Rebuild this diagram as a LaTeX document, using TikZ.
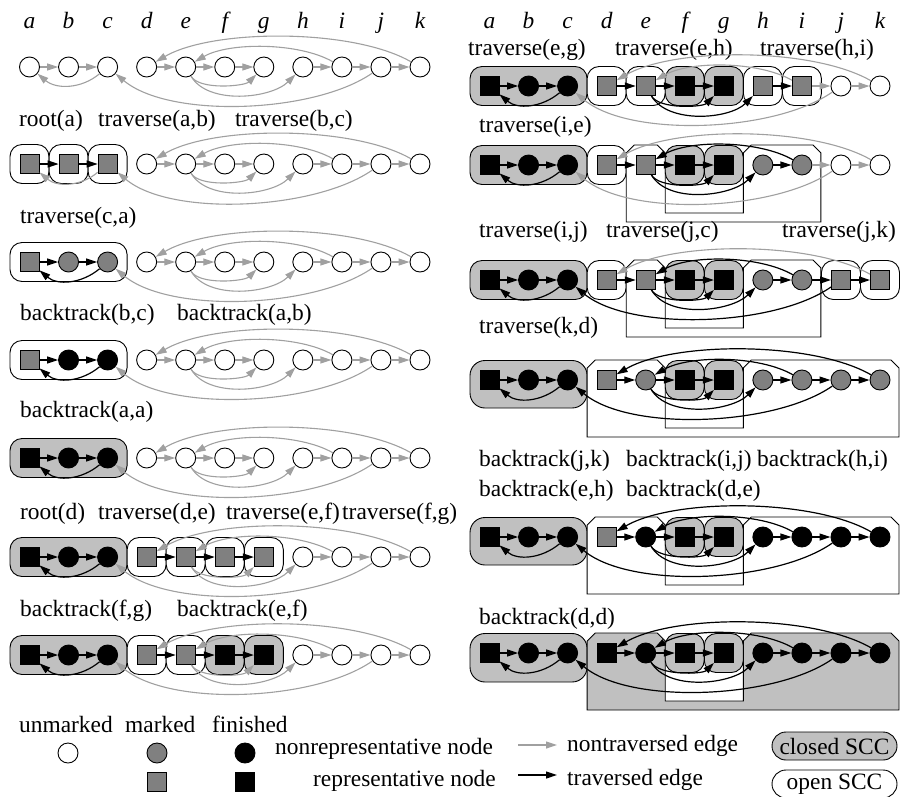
\documentclass[tikz,border=0pt]{standalone}
\usepackage{fontspec}
\setmainfont{Liberation Serif}
\usetikzlibrary{arrows.meta}
\definecolor{egray}{RGB}{160,160,160}
\definecolor{mgray}{RGB}{128,128,128}
\definecolor{cgray}{RGB}{192,192,192}
\newcommand\colltr[1]{\ifcase#1 a\or b\or c\or d\or e\or f\or g\or h\or i\or j\or k\fi}
\tikzset{
 x=1pt, y=1pt,
 nU/.style={circle, draw, line width=0.9pt, fill=white, minimum size=20pt, inner sep=0pt},
 nM/.style={nU, fill=mgray},
 nF/.style={nU, fill=black},
 nMR/.style={rectangle, draw, line width=0.9pt, fill=mgray, minimum size=19pt, inner sep=0pt},
 nFR/.style={nMR, fill=black},
 tipA/.style={-{Triangle[length=11pt,width=7pt]}},
 gr/.style={draw=egray, line width=1.1pt, tipA},
 bk/.style={draw=black, line width=1.2pt, tipA},
 obox/.style={draw, line width=0.9pt, fill=white, rounded corners=12pt},
 cbox/.style={obox, fill=cgray},
 tbox/.style={draw, line width=0.9pt, fill=cgray, rounded corners=15pt},
 oshape/.style={draw, line width=0.9pt, fill=white},
 cshape/.style={oshape, fill=cgray},
 lbl/.style={anchor=base west, inner sep=0pt, font=\fontsize{23.4}{28}\selectfont},
 hdr/.style={anchor=base, inner sep=0pt, font=\fontsize{23.4}{28}\selectfont\itshape},
 pill/.style={draw, line width=0.9pt, rounded corners=14pt, minimum width=125pt, minimum height=28pt, inner sep=0pt, font=\fontsize{23.4}{28}\selectfont},
 Eab/.style={}, Ebc/.style={}, Ede/.style={}, Eef/.style={}, Efg/.style={},
 Ehi/.style={}, Eij/.style={}, Ejk/.style={},
 Eca/.style={out=-140,in=-40,looseness=1},
 Eeg/.style={out=-60,in=-135,looseness=0.65},
 Eeh/.style={out=-60,in=-135,looseness=0.83},
 Ejc/.style={out=-145,in=-40,looseness=0.7},
 Ekd/.style={out=150,in=30,looseness=0.67},
 Eie/.style={out=150,in=30,looseness=0.73},
}
% nodes of one row
\newcommand\Row[4]{%
 \foreach \s [count=\i from 0] in {#4} {%
  \pgfmathsetmacro\xx{#2+39.05*\i}%
  \edef\tmp{\noexpand\node[\s] (#1\colltr{\i}) at (\xx,-#3) {};}\tmp
 }}
\newcommand\Bk[2]{\foreach \u/\v in {#2} {\edef\tmp{\noexpand\draw[bk,E\u\v] (#1\u) to (#1\v);}\tmp}}
\newcommand\Gr[2]{\foreach \u/\v in {#2} {\edef\tmp{\noexpand\draw[gr,E\u\v] (#1\u) to (#1\v);}\tmp}}
% rounded SCC box: style, x0, first col, last col, y, bottom offset
\newcommand\sccbox[6]{\draw[#1] ({#2+39.05*#3-19.5},{-(#5-19.5)}) rectangle ({#2+39.05*#4+19.5},{-(#5+#6)});}
% merged SCC with notch under f,g: style, x0, first col, last col, y
\newcommand\bigscc[5]{%
 \pgfmathsetmacro\sL{#2+39.05*#3-19.5}%
 \pgfmathsetmacro\sR{#2+39.05*#4+19}%
 \pgfmathsetmacro\sNL{#2+39.05*5-19.5}%
 \pgfmathsetmacro\sNR{#2+39.05*6+19.5}%
 \pgfmathsetmacro\sT{-(#5-20)}%
 \pgfmathsetmacro\sTc{-(#5-12)}%
 \pgfmathsetmacro\sNB{-(#5+48)}%
 \pgfmathsetmacro\sB{-(#5+57)}%
 \draw[#1] (\sL,\sTc) -- ({\sL+8},\sT) -- ({\sNL-8},\sT) -- (\sNL,\sTc) -- (\sNL,\sNB) -- (\sNR,\sNB) -- (\sNR,\sTc) -- ({\sNR+8},\sT) -- ({\sR-8},\sT) -- (\sR,\sTc) -- (\sR,\sB) -- (\sL,\sB) -- cycle;}
\begin{document}
\begin{tikzpicture}
\useasboundingbox (0,0) rectangle (900,-796);
% column headers
\foreach \lt [count=\i from 0] in {a,b,c,d,e,f,g,h,i,j,k} {
  \node[hdr] (hl\lt) at ({29.5+39.05*\i},-28) {\lt};
  \node[hdr] (hr\lt) at ({489.5+39.05*\i},-28) {\lt};
}
% ---------------- left panel ----------------
% row 1
\Row{L1}{29.5}{67}{nU,nU,nU,nU,nU,nU,nU,nU,nU,nU,nU}
\Gr{L1}{a/b,b/c,c/a,d/e,e/f,f/g,h/i,i/j,j/k,e/g,e/h,j/c,k/d,i/e}
\node[lbl] (t1) at (19,-126) {root(a)};
\node[lbl] (t2) at (98,-126) {traverse(a,b)};
\node[lbl] (t3) at (235,-126) {traverse(b,c)};
% row 2
\sccbox{obox}{29.5}{0}{0}{164}{19.5}
\sccbox{obox}{29.5}{1}{1}{164}{19.5}
\sccbox{obox}{29.5}{2}{2}{164}{19.5}
\Row{L2}{29.5}{164}{nMR,nMR,nMR,nU,nU,nU,nU,nU,nU,nU,nU}
\Bk{L2}{a/b,b/c}
\Gr{L2}{c/a,d/e,e/f,f/g,h/i,i/j,j/k,e/g,e/h,j/c,k/d,i/e}
\node[lbl] (t4) at (20,-223) {traverse(c,a)};
% row 3
\sccbox{obox}{29.5}{0}{2}{262}{19.5}
\Row{L3}{29.5}{262}{nMR,nM,nM,nU,nU,nU,nU,nU,nU,nU,nU}
\Bk{L3}{a/b,b/c,c/a}
\Gr{L3}{d/e,e/f,f/g,h/i,i/j,j/k,e/g,e/h,j/c,k/d,i/e}
\node[lbl] (t5) at (20,-320) {backtrack(b,c)};
\node[lbl] (t6) at (177,-320) {backtrack(a,b)};
% row 4
\sccbox{obox}{29.5}{0}{2}{360}{19.5}
\Row{L4}{29.5}{360}{nMR,nF,nF,nU,nU,nU,nU,nU,nU,nU,nU}
\Bk{L4}{a/b,b/c,c/a}
\Gr{L4}{d/e,e/f,f/g,h/i,i/j,j/k,e/g,e/h,j/c,k/d,i/e}
\node[lbl] (t7) at (20,-417) {backtrack(a,a)};
% row 5
\sccbox{cbox}{29.5}{0}{2}{458}{19.5}
\Row{L5}{29.5}{458}{nFR,nF,nF,nU,nU,nU,nU,nU,nU,nU,nU}
\Bk{L5}{a/b,b/c,c/a}
\Gr{L5}{d/e,e/f,f/g,h/i,i/j,j/k,e/g,e/h,j/c,k/d,i/e}
\node[lbl] (t8) at (20,-519) {root(d)};
\node[lbl] (t9) at (98,-519) {traverse(d,e)};
\node[lbl] (t10) at (226,-519) {traverse(e,f)};
\node[lbl] (t11) at (342,-519) {traverse(f,g)};
% row 6
\sccbox{cbox}{29.5}{0}{2}{557}{19.5}
\sccbox{obox}{29.5}{3}{3}{557}{19.5}
\sccbox{obox}{29.5}{4}{4}{557}{19.5}
\sccbox{obox}{29.5}{5}{5}{557}{19.5}
\sccbox{obox}{29.5}{6}{6}{557}{19.5}
\Row{L6}{29.5}{557}{nFR,nF,nF,nMR,nMR,nMR,nMR,nU,nU,nU,nU}
\Bk{L6}{a/b,b/c,c/a,d/e,e/f,f/g}
\Gr{L6}{h/i,i/j,j/k,e/g,e/h,j/c,k/d,i/e}
\node[lbl] (t12) at (20,-616) {backtrack(f,g)};
\node[lbl] (t13) at (177,-616) {backtrack(e,f)};
% row 7
\sccbox{cbox}{29.5}{0}{2}{655}{19.5}
\sccbox{obox}{29.5}{3}{3}{655}{19.5}
\sccbox{obox}{29.5}{4}{4}{655}{19.5}
\sccbox{cbox}{29.5}{5}{5}{655}{19.5}
\sccbox{cbox}{29.5}{6}{6}{655}{19.5}
\Row{L7}{29.5}{655}{nFR,nF,nF,nMR,nMR,nFR,nFR,nU,nU,nU,nU}
\Bk{L7}{a/b,b/c,c/a,d/e,e/f,f/g}
\Gr{L7}{h/i,i/j,j/k,e/g,e/h,j/c,k/d,i/e}
% ---------------- right panel ----------------
\node[lbl] (t14) at (468,-55) {traverse(e,g)};
\node[lbl] (t15) at (615,-55) {traverse(e,h)};
\node[lbl] (t16) at (760,-55) {traverse(h,i)};
% row R1
\sccbox{cbox}{489.5}{0}{2}{86}{19.5}
\sccbox{obox}{489.5}{3}{3}{86}{19.5}
\sccbox{obox}{489.5}{4}{4}{86}{19.5}
\sccbox{cbox}{489.5}{5}{5}{86}{19.5}
\sccbox{cbox}{489.5}{6}{6}{86}{19.5}
\sccbox{obox}{489.5}{7}{7}{86}{19.5}
\sccbox{obox}{489.5}{8}{8}{86}{19.5}
\Row{R1}{489.5}{86}{nFR,nF,nF,nMR,nMR,nFR,nFR,nMR,nMR,nU,nU}
\Gr{R1}{i/j,j/k,i/e,k/d,j/c}
\Bk{R1}{a/b,b/c,c/a,d/e,e/f,f/g,e/g,e/h,h/i}
\node[lbl] (t17) at (479,-132) {traverse(i,e)};
% row R2
\sccbox{cbox}{489.5}{0}{2}{165}{19.5}
\sccbox{obox}{489.5}{3}{3}{165}{19.5}
\bigscc{oshape}{489.5}{4}{8}{165}
\sccbox{cbox}{489.5}{5}{5}{165}{19.5}
\sccbox{cbox}{489.5}{6}{6}{165}{19.5}
\Row{R2}{489.5}{165}{nFR,nF,nF,nMR,nMR,nFR,nFR,nM,nM,nU,nU}
\Gr{R2}{i/j,j/k,k/d,j/c}
\Bk{R2}{a/b,b/c,c/a,d/e,e/f,f/g,e/g,e/h,h/i,i/e}
\node[lbl] (t18) at (479,-237) {traverse(i,j)};
\node[lbl] (t19) at (606,-237) {traverse(j,c)};
\node[lbl] (t20) at (782,-237) {traverse(j,k)};
% row R3
\sccbox{cbox}{489.5}{0}{2}{280}{19.5}
\sccbox{obox}{489.5}{3}{3}{280}{19.5}
\bigscc{oshape}{489.5}{4}{8}{280}
\sccbox{cbox}{489.5}{5}{5}{280}{19.5}
\sccbox{cbox}{489.5}{6}{6}{280}{19.5}
\sccbox{obox}{489.5}{9}{9}{280}{19.5}
\sccbox{obox}{489.5}{10}{10}{280}{19.5}
\Row{R3}{489.5}{280}{nFR,nF,nF,nMR,nMR,nFR,nFR,nM,nM,nMR,nMR}
\Gr{R3}{k/d}
\Bk{R3}{a/b,b/c,c/a,d/e,e/f,f/g,e/g,e/h,h/i,i/e,i/j,j/k,j/c}
\node[lbl] (t21) at (479,-333) {traverse(k,d)};
% row R4
\sccbox{tbox}{489.5}{0}{2}{380}{28}
\bigscc{oshape}{489.5}{3}{10}{380}
\sccbox{cbox}{489.5}{5}{5}{380}{19.5}
\sccbox{cbox}{489.5}{6}{6}{380}{19.5}
\Row{R4}{489.5}{380}{nFR,nF,nF,nMR,nM,nFR,nFR,nM,nM,nM,nM}
\Bk{R4}{a/b,b/c,c/a,d/e,e/f,f/g,e/g,e/h,h/i,i/e,i/j,j/k,j/c,k/d}
\node[lbl] (t22) at (479,-466) {backtrack(j,k)};
\node[lbl] (t23) at (626,-466) {backtrack(i,j)};
\node[lbl] (t24) at (757,-466) {backtrack(h,i)};
\node[lbl] (t25) at (479,-496) {backtrack(e,h)};
\node[lbl] (t26) at (626,-496) {backtrack(d,e)};
% row R5
\sccbox{tbox}{489.5}{0}{2}{537}{28}
\bigscc{oshape}{489.5}{3}{10}{537}
\sccbox{cbox}{489.5}{5}{5}{537}{19.5}
\sccbox{cbox}{489.5}{6}{6}{537}{19.5}
\Row{R5}{489.5}{537}{nFR,nF,nF,nMR,nF,nFR,nFR,nF,nF,nF,nF}
\Bk{R5}{a/b,b/c,c/a,d/e,e/f,f/g,e/g,e/h,h/i,i/e,i/j,j/k,j/c,k/d}
\node[lbl] (t27) at (479,-624) {backtrack(d,d)};
% row R6
\sccbox{tbox}{489.5}{0}{2}{653}{29}
\bigscc{cshape}{489.5}{3}{10}{653}
\sccbox{cbox}{489.5}{5}{5}{653}{19.5}
\sccbox{cbox}{489.5}{6}{6}{653}{19.5}
\Row{R6}{489.5}{653}{nFR,nF,nF,nFR,nF,nFR,nFR,nF,nF,nF,nF}
\Bk{R6}{a/b,b/c,c/a,d/e,e/f,f/g,e/g,e/h,h/i,i/e,i/j,j/k,j/c,k/d}
% ---------------- legend ----------------
\node[lbl] (t28) at (19,-732) {unmarked};
\node[lbl] (t29) at (125,-732) {marked};
\node[lbl] (t30) at (212,-732) {finished};
\node[nU] (lgU) at (68,-753) {};
\node[nM] (lgM) at (157,-753) {};
\node[nF] (lgF) at (245,-753) {};
\node[nMR] (lgMR) at (157,-782) {};
\node[nFR] (lgFR) at (245,-782) {};
\node[lbl] (t31) at (275,-754) {nonrepresentative node};
\node[lbl] (t32) at (313,-786) {representative node};
\coordinate (lgs1) at (518,-745);
\coordinate (lge1) at (557,-745);
\coordinate (lgs2) at (518,-775);
\coordinate (lge2) at (557,-775);
\draw[gr] (lgs1) -- (lge1);
\draw[bk] (lgs2) -- (lge2);
\node[lbl] (t33) at (567,-751) {nontraversed edge};
\node[lbl] (t34) at (567,-785) {traversed edge};
\node[pill, fill=cgray] (lgc) at (834.5,-746) {closed SCC};
\node[pill, fill=white] (lgo) at (834.5,-784) {open SCC};
\end{tikzpicture}
\end{document}
